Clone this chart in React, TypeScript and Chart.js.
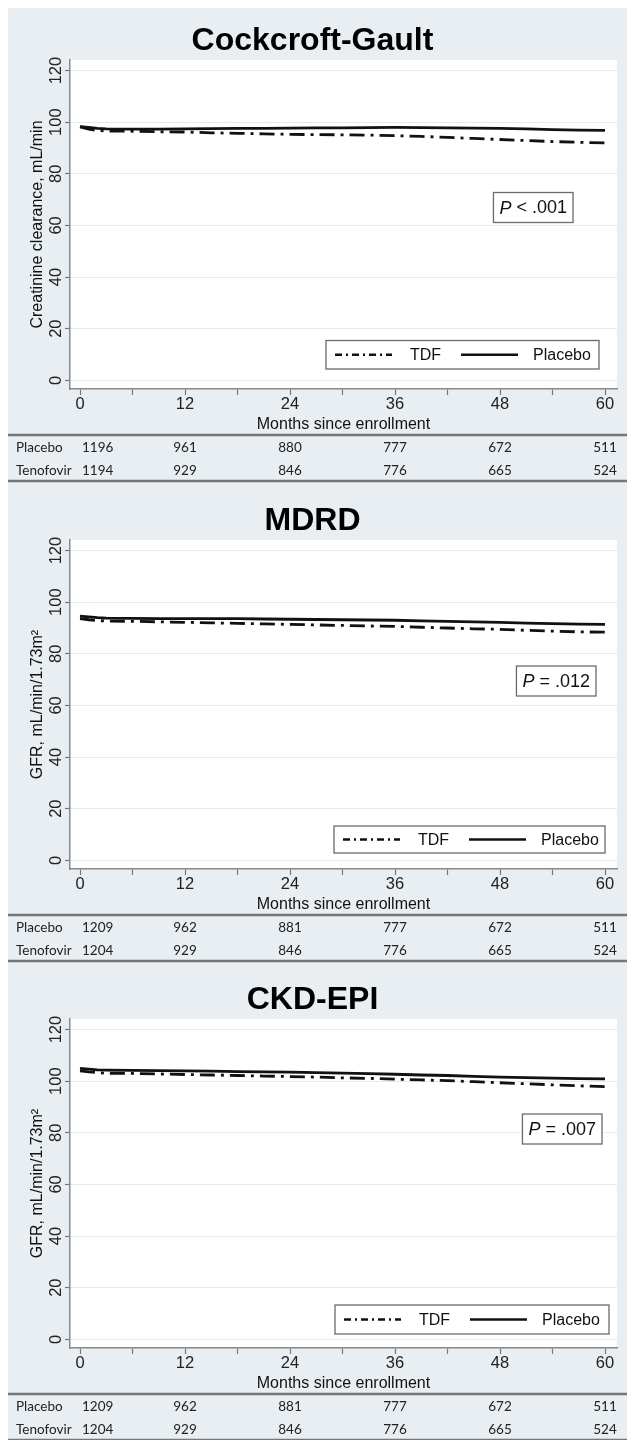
import React, { useEffect, useRef } from 'react';
import { Chart, registerables } from 'chart.js';

Chart.register(...registerables);

const FONT = "'Liberation Sans', Arial, Helvetica, sans-serif";
const TABLE_FONT = "Lato, 'Liberation Sans', sans-serif";

// ---- data ----
const months = [0, 1, 2, 3, 6, 9, 12, 15, 18, 21, 24, 27, 30, 33, 36, 39, 42, 45, 48, 51, 54, 57, 60];

const cgPlacebo = [98.3, 98.0, 97.6, 97.4, 97.3, 97.3, 97.4, 97.5, 97.6, 97.6, 97.7, 97.8, 97.8, 97.9, 98.0, 97.9, 97.8, 97.7, 97.6, 97.4, 97.1, 96.9, 96.8];
const cgTdf = [98.2, 97.3, 96.8, 96.6, 96.5, 96.3, 96.2, 95.9, 95.7, 95.5, 95.3, 95.2, 95.1, 95.0, 94.8, 94.5, 94.1, 93.7, 93.3, 92.9, 92.5, 92.2, 92.0];

const mdrdPlacebo = [94.6, 94.3, 94.0, 93.8, 93.7, 93.6, 93.6, 93.6, 93.6, 93.5, 93.4, 93.3, 93.2, 93.1, 93.0, 92.8, 92.6, 92.4, 92.2, 91.9, 91.7, 91.5, 91.4];
const mdrdTdf = [93.6, 93.2, 92.9, 92.7, 92.6, 92.4, 92.2, 92.0, 91.8, 91.6, 91.4, 91.2, 91.0, 90.8, 90.6, 90.3, 90.0, 89.7, 89.5, 89.1, 88.8, 88.5, 88.4];

const ckdPlacebo = [105.0, 104.7, 104.4, 104.3, 104.2, 104.1, 104.0, 103.9, 103.7, 103.6, 103.5, 103.3, 103.1, 102.9, 102.7, 102.4, 102.2, 101.9, 101.6, 101.4, 101.2, 101.0, 100.9];
const ckdTdf = [104.0, 103.6, 103.3, 103.1, 103.0, 102.8, 102.6, 102.4, 102.2, 102.0, 101.8, 101.6, 101.3, 101.1, 100.8, 100.5, 100.2, 99.8, 99.4, 99.0, 98.6, 98.2, 97.9];

const atRiskMonths = [0, 12, 24, 36, 48, 60];
const cgAtRiskPlacebo = [1196, 961, 880, 777, 672, 511];
const cgAtRiskTenofovir = [1194, 929, 846, 776, 665, 524];
const mdrdAtRiskPlacebo = [1209, 962, 881, 777, 672, 511];
const mdrdAtRiskTenofovir = [1204, 929, 846, 776, 665, 524];
const ckdAtRiskPlacebo = [1209, 962, 881, 777, 672, 511];
const ckdAtRiskTenofovir = [1204, 929, 846, 776, 665, 524];

const yTicks = [0, 20, 40, 60, 80, 100, 120];
const xMajorTicks = [0, 12, 24, 36, 48, 60];
const xMinorTicks = [6, 18, 30, 42, 54];
const seriesLabels = ['TDF', 'Placebo'];
const rowLabels = ['Placebo', 'Tenofovir'];
const panelTitles = ['Cockcroft-Gault', 'MDRD', 'CKD-EPI'];
const yTitles = ['Creatinine clearance, mL/min', 'GFR, mL/min/1.73m\u00B2', 'GFR, mL/min/1.73m\u00B2'];
const xTitle = 'Months since enrollment';
const pLetter = 'P';
const pRests = [' < .001', ' = .012', ' = .007'];

// ---- styles ----
const BG = '#e8eef1';
const LINE = '#111111';
const TDF_DASH = [15, 6, 3, 6];
const LEGEND_DASH = [7, 4, 2, 4];

type Layout = {
  legendRight: number;
  legendBottom: number;
  legendW: number;
  legendH: number;
  pRight: number;
  pCy: number;
};

type PanelProps = {
  title: string;
  yTitle: string;
  placebo: number[];
  tdf: number[];
  riskPlacebo: number[];
  riskTdf: number[];
  pRest: string;
  layout: Layout;
  height: number;
};

function drawSample(ctx: CanvasRenderingContext2D, x0: number, x1: number, y: number, w: number, dash: number[]) {
  ctx.save();
  ctx.beginPath();
  ctx.setLineDash(dash);
  ctx.lineWidth = w;
  ctx.strokeStyle = LINE;
  ctx.moveTo(x0, y);
  ctx.lineTo(x1, y);
  ctx.stroke();
  ctx.restore();
}

function Panel(props: PanelProps) {
  const ref = useRef<HTMLCanvasElement | null>(null);

  useEffect(() => {
    const canvas = ref.current;
    if (!canvas) return;
    const L = props.layout;

    const bgPlugin = {
      id: 'bgPlugin',
      beforeDraw(chart: any) {
        const { ctx, chartArea: a } = chart;
        ctx.save();
        ctx.fillStyle = BG;
        ctx.fillRect(0, 0, chart.width, chart.height);
        ctx.fillStyle = '#ffffff';
        ctx.fillRect(a.left, a.top, a.right - a.left, a.bottom - a.top);
        ctx.restore();
      },
    };

    const overlayPlugin = {
      id: 'overlayPlugin',
      afterDraw(chart: any) {
        const { ctx, chartArea: a } = chart;
        const xs = chart.scales.x;
        const ds = chart.data.datasets;
        ctx.save();

        // legend box
        const bx = a.right - L.legendRight - L.legendW;
        const by = a.bottom - L.legendBottom - L.legendH;
        ctx.fillStyle = '#ffffff';
        ctx.fillRect(bx, by, L.legendW, L.legendH);
        ctx.strokeStyle = '#6a6a6a';
        ctx.lineWidth = 1.3;
        ctx.strokeRect(bx, by, L.legendW, L.legendH);
        const cy = by + L.legendH / 2;
        drawSample(ctx, bx + 9, bx + 66, cy, 2.4, LEGEND_DASH);
        drawSample(ctx, bx + 135, bx + 192, cy, 2.4, []);
        ctx.fillStyle = '#111';
        ctx.font = `16px ${FONT}`;
        ctx.textAlign = 'left';
        ctx.textBaseline = 'middle';
        ctx.fillText(ds[0].label, bx + 84, cy + 1);
        ctx.fillText(ds[1].label, bx + 207, cy + 1);

        // P value box
        ctx.font = `italic 18px ${FONT}`;
        const wP = ctx.measureText(pLetter).width;
        ctx.font = `18px ${FONT}`;
        const wR = ctx.measureText(props.pRest).width;
        const pw = wP + wR + 12;
        const ph = 30;
        const px = a.right - L.pRight - pw;
        const py = a.top + L.pCy - ph / 2;
        ctx.fillStyle = '#ffffff';
        ctx.fillRect(px, py, pw, ph);
        ctx.strokeStyle = '#6a6a6a';
        ctx.lineWidth = 1.3;
        ctx.strokeRect(px, py, pw, ph);
        ctx.fillStyle = '#111';
        ctx.font = `italic 18px ${FONT}`;
        ctx.fillText(pLetter, px + 6, a.top + L.pCy + 1);
        ctx.font = `18px ${FONT}`;
        ctx.fillText(props.pRest, px + 6 + wP, a.top + L.pCy + 1);

        // at-risk table
        const top = a.bottom + 46;
        const r1 = a.bottom + 59;
        const r2 = a.bottom + 82;
        const bot = a.bottom + 92;
        ctx.strokeStyle = '#777777';
        ctx.lineWidth = 2.4;
        ctx.beginPath();
        ctx.moveTo(0, top);
        ctx.lineTo(chart.width, top);
        ctx.moveTo(0, bot);
        ctx.lineTo(chart.width, bot);
        ctx.stroke();
        ctx.fillStyle = '#222';
        ctx.font = `13.5px ${TABLE_FONT}`;
        ctx.textBaseline = 'middle';
        ctx.textAlign = 'left';
        ctx.fillText(rowLabels[0], 8, r1);
        ctx.fillText(rowLabels[1], 8, r2);
        atRiskMonths.forEach((m, i) => {
          const px0 = xs.getPixelForValue(m);
          if (i === 0) {
            ctx.textAlign = 'left';
            ctx.fillText(String(props.riskPlacebo[i]), px0 + 2, r1);
            ctx.fillText(String(props.riskTdf[i]), px0 + 2, r2);
          } else {
            ctx.textAlign = 'center';
            ctx.fillText(String(props.riskPlacebo[i]), px0, r1);
            ctx.fillText(String(props.riskTdf[i]), px0, r2);
          }
        });
        ctx.restore();
      },
    };

    const chart = new Chart(canvas, {
      type: 'line',
      data: {
        datasets: [
          {
            label: seriesLabels[0],
            data: months.map((m, i) => ({ x: m, y: props.tdf[i] })),
            borderColor: LINE,
            borderWidth: 2.8,
            borderDash: TDF_DASH,
            pointRadius: 0,
            fill: false,
            tension: 0,
          },
          {
            label: seriesLabels[1],
            data: months.map((m, i) => ({ x: m, y: props.placebo[i] })),
            borderColor: LINE,
            borderWidth: 2.8,
            pointRadius: 0,
            fill: false,
            tension: 0,
          },
        ],
      },
      options: {
        animation: false,
        responsive: false,
        devicePixelRatio: 1,
        events: [],
        layout: { padding: { left: 0, right: 10, top: 0, bottom: 54 } },
        plugins: {
          legend: { display: false },
          tooltip: { enabled: false },
          title: {
            display: true,
            text: props.title,
            color: '#000',
            font: { family: FONT, size: 32, weight: 'bold', lineHeight: 1 },
            padding: { top: 17, bottom: 3 },
          },
        },
        scales: {
          x: {
            type: 'linear',
            min: -1.143,
            max: 61.37,
            afterBuildTicks: (s: any) => {
              s.ticks = [...xMajorTicks, ...xMinorTicks].sort((p, q) => p - q).map((v) => ({ value: v }));
            },
            afterFit: (s: any) => {
              s.height = 45;
            },
            ticks: {
              autoSkip: false,
              maxRotation: 0,
              minRotation: 0,
              padding: 0,
              color: '#222',
              font: { family: FONT, size: 16.5 },
              callback: (v: any) => (xMajorTicks.includes(Number(v)) ? String(v) : ''),
            },
            grid: { drawOnChartArea: false, drawTicks: true, tickLength: 6, tickColor: '#777', tickWidth: 1.2 },
            border: { color: '#888', width: 1.5 },
            title: {
              display: true,
              text: xTitle,
              color: '#111',
              font: { family: FONT, size: 16, lineHeight: 1 },
              padding: { top: 0, bottom: 1 },
            },
          },
          y: {
            type: 'linear',
            min: -3.37,
            max: 124.1,
            afterBuildTicks: (s: any) => {
              s.ticks = yTicks.map((v) => ({ value: v }));
            },
            afterFit: (s: any) => {
              s.width = 62;
            },
            ticks: {
              autoSkip: false,
              minRotation: 90,
              maxRotation: 90,
              crossAlign: 'center',
              padding: -5.5,
              color: '#222',
              font: { family: FONT, size: 16.5 },
            },
            grid: { color: '#e4ebef', lineWidth: 1, tickLength: 5, tickColor: '#777', tickWidth: 1.2, drawTicks: true },
            border: { color: '#888', width: 1.5 },
            title: {
              display: true,
              text: props.yTitle,
              color: '#111',
              font: { family: FONT, size: 16, lineHeight: 1 },
              padding: { top: 22, bottom: 0 },
            },
          },
        },
      } as any,
      plugins: [bgPlugin, overlayPlugin],
    });

    return () => {
      chart.destroy();
    };
  }, []);

  return (
    <div style={{ height: props.height, overflow: 'hidden', background: BG }}>
      <canvas ref={ref} width={619} height={480} style={{ display: 'block', width: 619, height: 480 }} />
    </div>
  );
}

const layouts: Layout[] = [
  { legendRight: 18, legendBottom: 20, legendW: 273, legendH: 28.5, pRight: 44, pCy: 147.5 },
  { legendRight: 12, legendBottom: 16, legendW: 271, legendH: 27, pRight: 21, pCy: 141 },
  { legendRight: 8, legendBottom: 14, legendW: 274, legendH: 29, pRight: 15, pCy: 110 },
];

export default function App() {
  return (
    <div style={{ position: 'absolute', left: 8, top: 8, width: 619, height: 1432, overflow: 'hidden' }}>
      <Panel title={panelTitles[0]} yTitle={yTitles[0]} placebo={cgPlacebo} tdf={cgTdf}
        riskPlacebo={cgAtRiskPlacebo} riskTdf={cgAtRiskTenofovir} pRest={pRests[0]} layout={layouts[0]} height={480} />
      <Panel title={panelTitles[1]} yTitle={yTitles[1]} placebo={mdrdPlacebo} tdf={mdrdTdf}
        riskPlacebo={mdrdAtRiskPlacebo} riskTdf={mdrdAtRiskTenofovir} pRest={pRests[1]} layout={layouts[1]} height={479} />
      <Panel title={panelTitles[2]} yTitle={yTitles[2]} placebo={ckdPlacebo} tdf={ckdTdf}
        riskPlacebo={ckdAtRiskPlacebo} riskTdf={ckdAtRiskTenofovir} pRest={pRests[2]} layout={layouts[2]} height={473} />
    </div>
  );
}
